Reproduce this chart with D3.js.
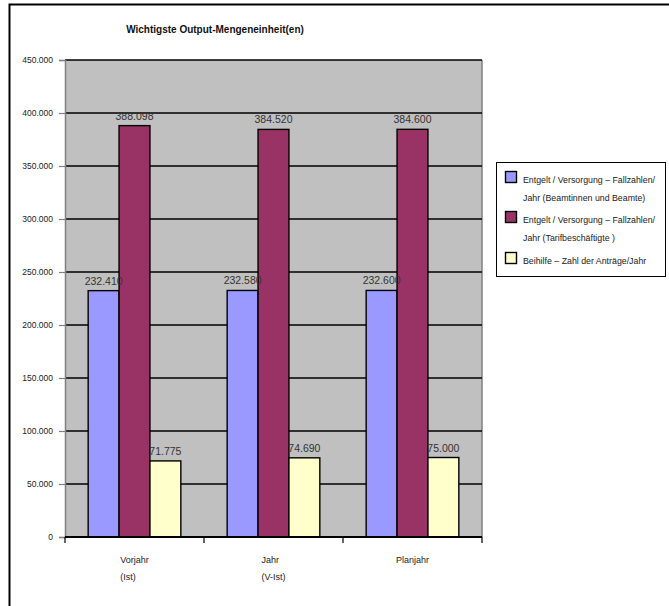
<!DOCTYPE html>
<html>
<head>
<meta charset="utf-8">
<script src="https://cdn.jsdelivr.net/npm/d3@7"></script>
<style>
  html, body { margin: 0; padding: 0; background: #fff; overflow: hidden; }
  svg { display: block; }
  text { font-family: "Liberation Sans", Arial, sans-serif; }
</style>
</head>
<body>
<script>
// chart data
var categories = [["Vorjahr", "(Ist)"], ["Jahr", "(V-Ist)"], ["Planjahr"]];
var seriesNames = [
  ["Entgelt / Versorgung \u2013 Fallzahlen/", "Jahr (Beamtinnen und Beamte)"],
  ["Entgelt / Versorgung \u2013 Fallzahlen/", "Jahr (Tarifbesch\u00e4ftigte )"],
  ["Beihilfe \u2013 Zahl der Antr\u00e4ge/Jahr"]
];
var beamteValues = [232410, 232580, 232600];
var tarifValues = [388098, 384520, 384600];
var beihilfeValues = [71775, 74690, 75000];
var yTicks = [0, 50000, 100000, 150000, 200000, 250000, 300000, 350000, 400000, 450000];
var colors = ["#9999FF", "#993366", "#FFFFCC"];

var w = 669, h = 606;
var plotLeft = 65, plotRight = 482, plotTop = 60, plotBottom = 537;

var svg = d3.select("body").append("svg")
  .attr("width", w)
  .attr("height", h);

// outer frame (runs past the window on right and bottom)
svg.append("rect")
  .attr("x", 9.5).attr("y", 4.5)
  .attr("width", 720).attr("height", 720)
  .attr("fill", "none")
  .attr("stroke", "#000")
  .attr("stroke-width", 2);

var de = d3.formatLocale({ decimal: ",", thousands: ".", grouping: [3], currency: ["", "\u20ac"] });
var fmt = de.format(",d");

var y = d3.scaleLinear().domain([0, 450000]).range([plotBottom, plotTop]);
var x0 = d3.scaleBand().domain(d3.range(categories.length)).range([plotLeft, plotRight]);
var x1 = d3.scaleBand().domain(d3.range(seriesNames.length))
  .range([0, x0.bandwidth()])
  .paddingInner(0).paddingOuter(0.75);

// plot background
svg.append("rect")
  .attr("x", plotLeft).attr("y", plotTop)
  .attr("width", plotRight - plotLeft).attr("height", plotBottom - plotTop)
  .attr("fill", "#C0C0C0");

// right border of plot
svg.append("line")
  .attr("x1", plotRight).attr("x2", plotRight)
  .attr("y1", plotTop).attr("y2", plotBottom)
  .attr("stroke", "#808080").attr("stroke-width", 1.5);

// gridlines
svg.append("g").selectAll("line")
  .data(yTicks.slice(1))
  .enter().append("line")
  .attr("x1", plotLeft).attr("x2", plotRight)
  .attr("y1", function(d) { return y(d); })
  .attr("y2", function(d) { return y(d); })
  .attr("stroke", "#000").attr("stroke-width", 1.6);

// y axis
var yAxis = svg.append("g")
  .attr("transform", "translate(" + plotLeft + ",0)")
  .call(d3.axisLeft(y).tickValues(yTicks).tickSize(6).tickPadding(6)
    .tickFormat(function(d) { return d === 0 ? "0" : fmt(d); }));
yAxis.select(".domain").attr("stroke", "#808080").attr("stroke-width", 1.5);
yAxis.selectAll(".tick line").attr("stroke", "#808080").attr("stroke-width", 1.2);
yAxis.selectAll(".tick text")
  .attr("font-size", "8.5px")
  .attr("fill", "#222")
  .style("font-family", "'Liberation Sans', Arial, sans-serif");

// bars
var allSeries = [beamteValues, tarifValues, beihilfeValues];
var groups = svg.append("g").selectAll("g")
  .data(categories)
  .enter().append("g")
  .attr("transform", function(d, i) { return "translate(" + x0(i) + ",0)"; });

groups.selectAll("rect")
  .data(function(d, i) { return allSeries.map(function(s, k) { return { k: k, v: s[i] }; }); })
  .enter().append("rect")
  .attr("x", function(d) { return x1(d.k); })
  .attr("y", function(d) { return y(d.v); })
  .attr("width", x1.bandwidth())
  .attr("height", function(d) { return plotBottom - y(d.v); })
  .attr("fill", function(d) { return colors[d.k]; })
  .attr("stroke", "#000")
  .attr("stroke-width", 1.4);

// value labels
groups.selectAll("text.val")
  .data(function(d, i) { return allSeries.map(function(s, k) { return { k: k, v: s[i] }; }); })
  .enter().append("text")
  .attr("class", "val")
  .attr("x", function(d) { return x1(d.k) + x1.bandwidth() / 2; })
  .attr("y", function(d) { return y(d.v) - 6; })
  .attr("text-anchor", "middle")
  .attr("font-size", "10.5px")
  .attr("fill", "#333")
  .text(function(d) { return fmt(d.v); });

// x axis line and boundary ticks
svg.append("line")
  .attr("x1", plotLeft).attr("x2", plotRight)
  .attr("y1", plotBottom).attr("y2", plotBottom)
  .attr("stroke", "#000").attr("stroke-width", 2);

var bounds = d3.range(categories.length).map(function(i) { return x0(i); }).concat([plotRight]);
svg.append("g").selectAll("line")
  .data(bounds)
  .enter().append("line")
  .attr("x1", function(d) { return d; }).attr("x2", function(d) { return d; })
  .attr("y1", plotBottom).attr("y2", plotBottom + 6)
  .attr("stroke", "#000").attr("stroke-width", 1.2);

// category labels: left-aligned block, centered under group
categories.forEach(function(lines, i) {
  var t = svg.append("text")
    .attr("font-size", "9px")
    .attr("fill", "#222");
  lines.forEach(function(l, j) {
    t.append("tspan")
      .attr("x", 0)
      .attr("y", 563 + j * 17)
      .text(l);
  });
  var bw = t.node().getBBox().width;
  t.attr("transform", "translate(" + (x0(i) + x0.bandwidth() / 2 - bw / 2) + ",0)");
});

// title
svg.append("text")
  .attr("x", 215).attr("y", 33)
  .attr("text-anchor", "middle")
  .attr("font-size", "10px")
  .attr("font-weight", "bold")
  .attr("fill", "#111")
  .text("Wichtigste Output-Mengeneinheit(en)");

// legend
var legend = svg.append("g");
legend.append("rect")
  .attr("x", 496.5).attr("y", 162.5)
  .attr("width", 169).attr("height", 114)
  .attr("fill", "#fff")
  .attr("stroke", "#000").attr("stroke-width", 1);

var swatchY = [171, 211, 252];
seriesNames.forEach(function(lines, k) {
  legend.append("rect")
    .attr("x", 505.5).attr("y", swatchY[k] + 0.5)
    .attr("width", 11).attr("height", 11)
    .attr("fill", colors[k])
    .attr("stroke", "#000").attr("stroke-width", 1.4);
  var t = legend.append("text")
    .attr("font-size", "8.8px")
    .attr("fill", "#222");
  lines.forEach(function(l, j) {
    t.append("tspan")
      .attr("x", 523)
      .attr("y", swatchY[k] + 12 + j * 18)
      .text(l);
  });
});
</script>
</body>
</html>
